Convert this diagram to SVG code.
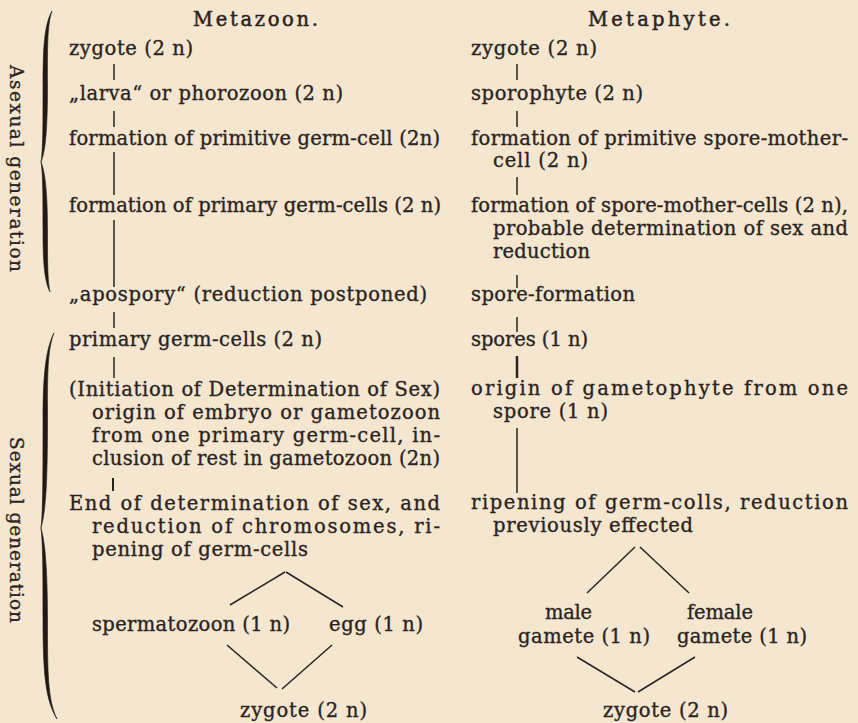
<svg xmlns="http://www.w3.org/2000/svg" width="858" height="723" viewBox="0 0 858 723">
<style>
.t{font-family:"DejaVu Serif","Liberation Serif",serif;font-size:19.5px;fill:#2b241e;stroke:#2b241e;stroke-width:0.35px;}
.h{font-family:"DejaVu Serif","Liberation Serif",serif;font-size:19.5px;fill:#2b241e;stroke:#2b241e;stroke-width:0.5px;}
.c{stroke:#2b241e;stroke-width:1.5;fill:none;stroke-linecap:butt;}
.b{fill:#1f1a16;stroke:#1f1a16;stroke-width:0.6;}
</style>
<rect width="858" height="723" fill="#f5e6d0"/>

<g id="braces">
<path class="b" d="M52,11 C44,25 43,50 43,85 C43,125 43,150 41,162 C46,150 47.5,125 47.5,85 C47.5,50 47,25 52,11 Z"/>
<path class="b" d="M41,162 C43,174 43,200 43,230 C43,260 44,280 50,292 C47.5,280 47.5,260 47.5,230 C47.5,200 46,174 41,162 Z"/>
<path class="b" d="M54,333 C45,350 43,380 43,420 C43,480 43,510 41,528 C46,510 47.5,480 47.5,420 C47.5,380 47,350 54,333 Z"/>
<path class="b" d="M41,528 C43,545 43,580 43,620 C43,670 45,700 57,719 C47.5,700 47.5,670 47.5,620 C47.5,580 46,545 41,528 Z"/>
</g>

<g id="labels">
<text class="t" transform="translate(10,65) rotate(90)" textLength="207" lengthAdjust="spacing" style="font-size:18.5px">Asexual generation</text>
<text class="t" transform="translate(10,437) rotate(90)" textLength="186" lengthAdjust="spacing" style="font-size:18.5px">Sexual generation</text>
</g>

<g id="headers">
<text class="h" x="193" y="26" textLength="125" lengthAdjust="spacing">Metazoon.</text>
<text class="h" x="588" y="26" textLength="142" lengthAdjust="spacing">Metaphyte.</text>
</g>

<g id="metazoon">
<g id="mz-zygote"><text class="t" x="69" y="55" textLength="124" lengthAdjust="spacing">zygote (2 n)</text></g>
<g id="mz-larva"><text class="t" x="69" y="100" textLength="274" lengthAdjust="spacing">„larva“ or phorozoon (2 n)</text></g>
<g id="mz-primitive"><text class="t" x="69" y="145" textLength="371" lengthAdjust="spacing">formation of primitive germ-cell (2n)</text></g>
<g id="mz-primary"><text class="t" x="69" y="212" textLength="372" lengthAdjust="spacing">formation of primary germ-cells (2 n)</text></g>
<g id="mz-apospory"><text class="t" x="69" y="301" textLength="358" lengthAdjust="spacing">„apospory“ (reduction postponed)</text></g>
<g id="mz-pgc"><text class="t" x="69" y="346" textLength="253" lengthAdjust="spacing">primary germ-cells (2 n)</text></g>
<g id="mz-initiation">
<text class="t" x="69" y="396" textLength="371" lengthAdjust="spacing">(Initiation of Determination of Sex)</text>
<text class="t" x="92" y="419" textLength="348" lengthAdjust="spacing">origin of embryo or gametozoon</text>
<text class="t" x="92" y="442" textLength="348" lengthAdjust="spacing">from one primary germ-cell, in-</text>
<text class="t" x="92" y="465" textLength="348" lengthAdjust="spacing">clusion of rest in gametozoon (2n)</text>
</g>
<g id="mz-end">
<text class="t" x="69" y="510" textLength="371" lengthAdjust="spacing">End of determination of sex, and</text>
<text class="t" x="92" y="533" textLength="348" lengthAdjust="spacing">reduction of chromosomes, ri-</text>
<text class="t" x="92" y="556" textLength="216" lengthAdjust="spacing">pening of germ-cells</text>
</g>
<g id="mz-sperm"><text class="t" x="92" y="631" textLength="198" lengthAdjust="spacing">spermatozoon (1 n)</text></g>
<g id="mz-egg"><text class="t" x="329" y="631" textLength="94" lengthAdjust="spacing">egg (1 n)</text></g>
<g id="mz-zygote2"><text class="t" x="240" y="717" textLength="127" lengthAdjust="spacing">zygote (2 n)</text></g>
</g>

<g id="metaphyte">
<g id="mp-zygote"><text class="t" x="471" y="55" textLength="126" lengthAdjust="spacing">zygote (2 n)</text></g>
<g id="mp-sporophyte"><text class="t" x="471" y="100" textLength="172" lengthAdjust="spacing">sporophyte (2 n)</text></g>
<g id="mp-primitive">
<text class="t" x="471" y="145" textLength="377" lengthAdjust="spacing">formation of primitive spore-mother-</text>
<text class="t" x="493" y="167" textLength="95" lengthAdjust="spacing">cell (2 n)</text>
</g>
<g id="mp-smc">
<text class="t" x="471" y="212" textLength="377" lengthAdjust="spacing">formation of spore-mother-cells (2 n),</text>
<text class="t" x="493" y="235" textLength="355" lengthAdjust="spacing">probable determination of sex and</text>
<text class="t" x="493" y="258" textLength="97" lengthAdjust="spacing">reduction</text>
</g>
<g id="mp-sporeform"><text class="t" x="471" y="301" textLength="164" lengthAdjust="spacing">spore-formation</text></g>
<g id="mp-spores"><text class="t" x="471" y="346" textLength="117" lengthAdjust="spacing">spores (1 n)</text></g>
<g id="mp-origin">
<text class="t" x="471" y="395" textLength="377" lengthAdjust="spacing">origin of gametophyte from one</text>
<text class="t" x="493" y="418" textLength="115" lengthAdjust="spacing">spore (1 n)</text>
</g>
<g id="mp-ripening">
<text class="t" x="471" y="509" textLength="377" lengthAdjust="spacing">ripening of germ-colls, reduction</text>
<text class="t" x="493" y="532" textLength="200" lengthAdjust="spacing">previously effected</text>
</g>
<g id="mp-male">
<text class="t" x="545" y="619" textLength="47" lengthAdjust="spacing">male</text>
<text class="t" x="518" y="643" textLength="132" lengthAdjust="spacing">gamete (1 n)</text>
</g>
<g id="mp-female">
<text class="t" x="687" y="619" textLength="66" lengthAdjust="spacing">female</text>
<text class="t" x="677" y="643" textLength="130" lengthAdjust="spacing">gamete (1 n)</text>
</g>
<g id="mp-zygote2"><text class="t" x="603" y="717" textLength="125" lengthAdjust="spacing">zygote (2 n)</text></g>
</g>

<g id="connectors">
<line class="c" x1="114" y1="64" x2="114" y2="80"/>
<line class="c" x1="114" y1="111" x2="114" y2="127"/>
<line class="c" x1="114" y1="152" x2="114" y2="195"/>
<line class="c" x1="114" y1="220" x2="114" y2="287"/>
<line class="c" x1="114" y1="312" x2="114" y2="328"/>
<line class="c" x1="114" y1="357" x2="114" y2="378"/>
<line class="c" x1="113" y1="478" x2="113" y2="491" style="stroke-width:2"/>
<line class="c" x1="285" y1="572" x2="230" y2="605"/>
<line class="c" x1="286" y1="572" x2="343" y2="607"/>
<line class="c" x1="227" y1="645" x2="277" y2="688"/>
<line class="c" x1="332" y1="645" x2="282" y2="689"/>
<line class="c" x1="517" y1="64" x2="517" y2="80"/>
<line class="c" x1="517" y1="111" x2="517" y2="127"/>
<line class="c" x1="517" y1="177" x2="517" y2="195"/>
<line class="c" x1="517" y1="275" x2="517" y2="288"/>
<line class="c" x1="517" y1="317" x2="517" y2="332"/>
<line class="c" x1="517" y1="356" x2="517" y2="378" style="stroke-width:2.5"/>
<line class="c" x1="517" y1="428" x2="517" y2="493"/>
<line class="c" x1="635" y1="547" x2="587" y2="593"/>
<line class="c" x1="640" y1="547" x2="689" y2="593"/>
<line class="c" x1="577" y1="657" x2="635" y2="692"/>
<line class="c" x1="695" y1="657" x2="638" y2="692"/>
</g>
</svg>
